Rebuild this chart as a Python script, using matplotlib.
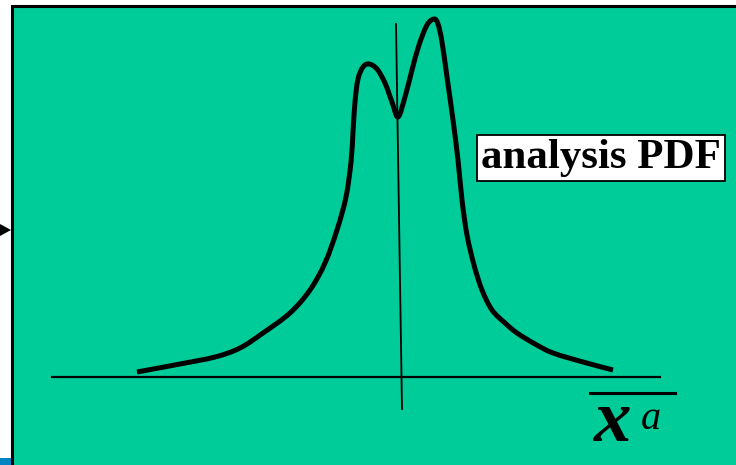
import matplotlib
matplotlib.use("Agg")
import matplotlib.pyplot as plt
import numpy as np
from matplotlib.patches import Rectangle, Polygon, PathPatch
from matplotlib.path import Path

# Hand-drawn analysis PDF curve: x relative to the vertical (truth) line,
# y = height above the horizontal axis
curve_x = [-263, -220, -185, -160, -137, -110, -90, -75, -63, -54, -49, -47,
           -45, -42, -37, -31, -23, -15, -8, -2, 5, 12, 19, 27, 34, 38,
           42, 47, 53, 58, 62, 67, 74, 82, 92, 105, 117, 135, 153, 183, 213]
curve_y = [5, 13, 20, 29, 44, 64, 87, 114, 147, 180, 215, 245,
           275, 298, 310, 313, 308, 294, 275, 260, 280, 307, 332, 352, 358, 353,
           335, 300, 257, 217, 177, 142, 112, 87, 67, 54, 44, 33, 24, 15, 7]

label_text = "analysis PDF"
xlabel_main = "x"
xlabel_sup = "a"

GREEN = "#00CC99"
BLUE = "#0084C2"

fig = plt.figure(figsize=(7.36, 4.65), dpi=100)
fig.patch.set_facecolor("white")
ax = fig.add_axes([0, 0, 1, 1])
X0, Y0 = 400, 377  # pixel position of the data origin


def px(xp, yp):
    return xp - X0, Y0 - yp


ax.set_xlim(-X0, 736 - X0)
ax.set_ylim(Y0 - 465, Y0)
ax.axis("off")

# green slide panel with black top/left border
x1, y1 = px(12, 465)
ax.add_patch(Rectangle((x1, y1), 736, 465 - 6, facecolor=GREEN, edgecolor="none", zorder=0))
ax.plot(*zip(px(12, 465), px(12, 6), px(740, 6)), color="black", lw=2.2, zorder=1,
        solid_joinstyle="miter")

# small arrow head at the left edge
ax.add_patch(Polygon([px(0, 224), px(11, 230), px(0, 236)], closed=True,
                     facecolor="black", edgecolor="none", zorder=2))
# blue strip bottom-left
bx, by = px(0, 465)
ax.add_patch(Rectangle((bx, by), 11, 7, facecolor=BLUE, edgecolor="none", zorder=2))

# horizontal axis and vertical line
ax.plot([52 - X0, 660 - X0], [0, 0], color="black", lw=1.6, zorder=3)
ax.plot([396 - X0, 402 - X0], [Y0 - 24, Y0 - 409], color="black", lw=1.3, zorder=3)

# PDF curve drawn as a smooth Bezier path through the read points (Catmull-Rom)
pts = np.column_stack([curve_x, curve_y]).astype(float)
verts = [tuple(pts[0])]
codes = [Path.MOVETO]
n = len(pts)
for i in range(n - 1):
    p0 = pts[i - 1] if i > 0 else pts[i]
    p1 = pts[i]
    p2 = pts[i + 1]
    p3 = pts[i + 2] if i + 2 < n else pts[i + 1]
    c1 = p1 + (p2 - p0) / 6.0
    c2 = p2 - (p3 - p1) / 6.0
    verts += [tuple(c1), tuple(c2), tuple(p2)]
    codes += [Path.CURVE4] * 3
ax.add_patch(PathPatch(Path(verts, codes), facecolor="none", edgecolor="black",
                       lw=3.6, capstyle="butt", joinstyle="round", zorder=4))

# label box
tx, ty = px(601, 158)
ax.text(tx, ty, label_text, fontfamily="Liberation Serif", fontweight="bold",
        fontsize=31, ha="center", va="center", zorder=5,
        bbox=dict(boxstyle="square,pad=0.09", facecolor="white", edgecolor="black", lw=1.3))

# x^a with overbar
ax.plot([590 - X0, 675 - X0], [Y0 - 393, Y0 - 393], color="black", lw=2.2, zorder=5)
ax.text(*px(594, 441), xlabel_main, fontfamily="Liberation Serif", fontstyle="italic",
        fontweight="bold", fontsize=54, ha="left", va="baseline", zorder=5)
ax.text(*px(641, 429), xlabel_sup, fontfamily="Liberation Serif", fontstyle="italic",
        fontsize=29, ha="left", va="baseline", zorder=5)

fig.savefig("out.png", dpi=100, facecolor="white")
